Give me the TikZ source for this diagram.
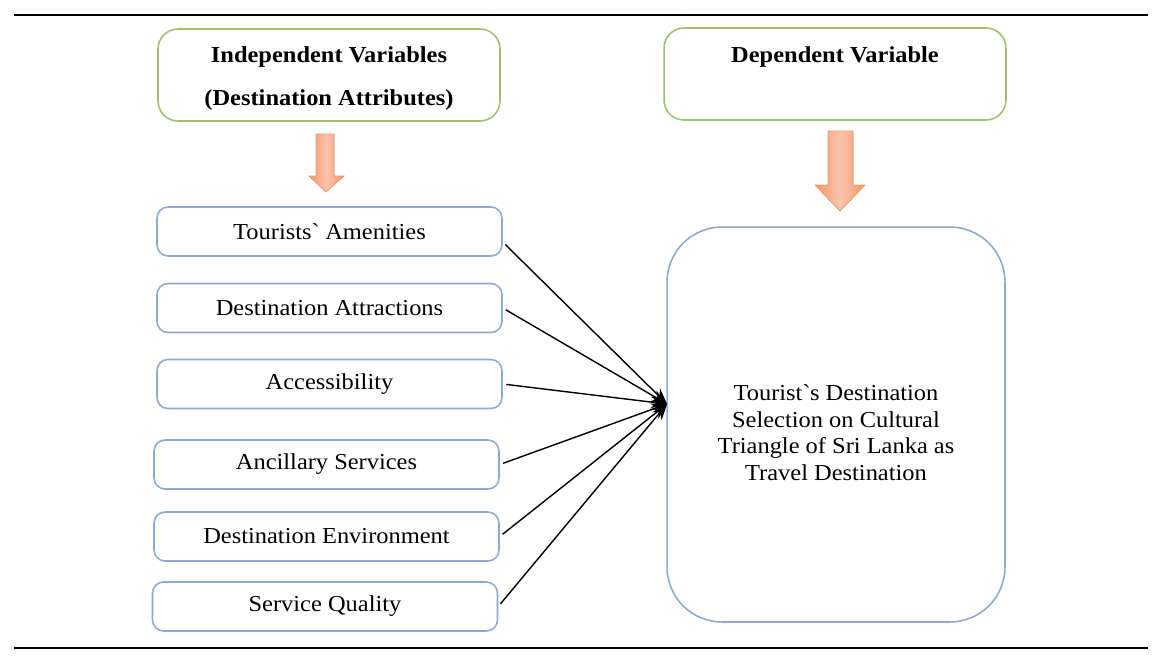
\documentclass[tikz,border=0pt]{standalone}
\usepackage{fontspec}
\setmainfont[FakeStretch=1.07]{Liberation Serif}
\usetikzlibrary{arrows.meta,positioning,calc}

\definecolor{hdgreen}{RGB}{160,192,110}
\definecolor{boxblue}{RGB}{140,170,210}
\definecolor{arrdark}{RGB}{244,152,108}
\definecolor{arrlight}{RGB}{250,196,170}

\newcommand{\boxfont}{\fontsize{13}{15.1}\selectfont}

\tikzset{
  hdbox/.style={draw=hdgreen, line width=0.9pt, rounded corners=0.4cm,
    minimum width=6.84cm, minimum height=1.84cm, align=center,
    font=\boxfont\bfseries},
  attrbox/.style={draw=boxblue, line width=0.9pt, rounded corners=0.22cm,
    minimum width=6.9cm, minimum height=0.98cm, font=\boxfont},
  selbox/.style={draw=boxblue, line width=0.9pt, rounded corners=1.1cm,
    minimum width=6.76cm, minimum height=7.9cm, align=center, font=\boxfont},
  conn/.style={-{Stealth[length=9pt,width=7pt]}, line width=0.8pt, shorten <=2pt},
  downarr/.style={draw=arrdark, line width=0.4pt, left color=arrdark,
    right color=arrdark, middle color=arrlight},
}

\begin{document}
\begin{tikzpicture}[x=0.02cm, y=-0.02cm]
    \useasboundingbox (0,0) rectangle (1163,660);

    \draw[line width=1.6pt] (14,15) -- (1148,15);
    \draw[line width=1.6pt] (14,648) -- (1148,648);

    \node[hdbox] (indep) at (329,75) {\rule{0pt}{12.7pt}Independent Variables\\[9.5pt](Destination Attributes)};
    \node[hdbox] (dep) at (835,74) {\rule{0pt}{11.6pt}Dependent Variable\\[9.5pt]\mbox{}};

    \fill[downarr] (316,134) -- (334,134) -- (334,176) -- (344,176) -- (326,192)
        -- (309,176) -- (316,176) -- cycle;
    \fill[downarr] (828,131) -- (853,131) -- (853,185) -- (865,185) -- (840,211)
        -- (815,185) -- (828,185) -- cycle;

    \node[attrbox] (amen) at (329.5,231.5) {Tourists\textasciigrave{} Amenities};
    \node[attrbox] (attr) at (329.5,308) {Destination Attractions};
    \node[attrbox] (access) at (329.5,384) {Accessibility};
    \node[attrbox] (ancil) at (326.5,464.5) {Ancillary Services};
    \node[attrbox] (envir) at (326.5,536.5) {Destination Environment};
    \node[attrbox] (squal) at (325,606.5) {Service Quality};

    \node[selbox] (select) at (836,424.5) {\rule{0pt}{18.5pt}Tourist\textasciigrave s Destination\\
        Selection on Cultural\\ Triangle of Sri Lanka as\\ Travel Destination};
    \coordinate (hit) at (667,404);

    \draw[conn] ([yshift=-6pt]amen.east) -- (hit);
    \draw[conn] (attr.east) -- (hit);
    \draw[conn] (access.east) -- (hit);
    \draw[conn] (ancil.east) -- (hit);
    \draw[conn] (envir.east) -- (hit);
    \draw[conn] (squal.east) -- (hit);
\end{tikzpicture}
\end{document}
